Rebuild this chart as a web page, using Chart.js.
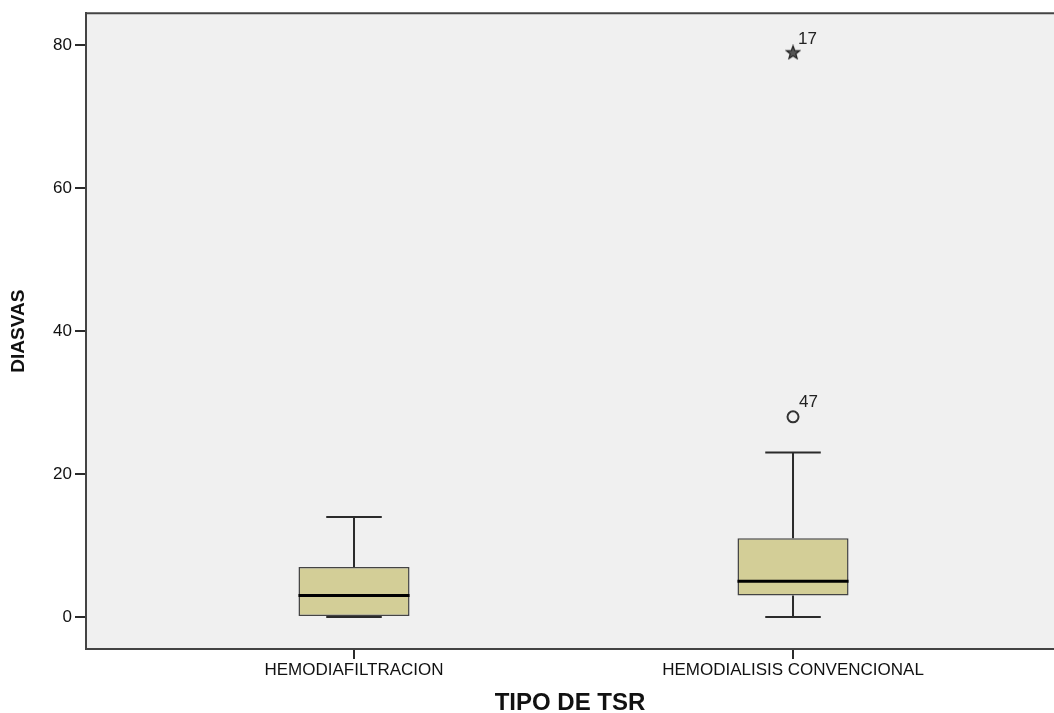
<!DOCTYPE html>
<html>
<head>
<meta charset="utf-8">
<script src="https://cdn.jsdelivr.net/npm/chart.js@4.4.1/dist/chart.umd.min.js"></script>
<style>
  html, body { margin: 0; padding: 0; background: #fff; }
  #wrap { width: 1054px; height: 713px; position: relative; }
</style>
</head>
<body>
<div id="wrap"><canvas id="boxChart"></canvas></div>
<script>
// Boxplot data
const categories = ['HEMODIAFILTRACION', 'HEMODIALISIS CONVENCIONAL'];
const whiskerLow = [0, 0];
const q1 = [0, 3];
const median = [3, 5];
const q3 = [7, 11];
const whiskerHigh = [14, 23];

// outliers (circle) and extremes (star): group number, value, case label
const outlierGroup = [2];
const outlierValues = [28];
const outlierCases = ['47'];
const extremeGroup = [2];
const extremeValues = [79];
const extremeCases = ['17'];

const yTicks = [0, 20, 40, 60, 80];

const FONT = "'Liberation Sans', Arial, sans-serif";
const INK = '#2b2b2b';

// small 5-point star for the extreme marker
function makeStar(size) {
    const c = document.createElement('canvas');
    c.width = size; c.height = size;
    const g = c.getContext('2d');
    const cx = size / 2, cy = size / 2 + 0.5, outer = size / 2 - 1, inner = outer * 0.42;
    g.beginPath();
    for (let i = 0; i < 10; i++) {
        const r = i % 2 === 0 ? outer : inner;
        const a = -Math.PI / 2 + i * Math.PI / 5;
        g.lineTo(cx + r * Math.cos(a), cy + r * Math.sin(a));
    }
    g.closePath();
    g.fillStyle = '#555';
    g.fill();
    g.strokeStyle = '#222';
    g.lineWidth = 1.2;
    g.stroke();
    return c;
}

const boxExtras = {
    id: 'boxExtras',
    beforeDraw(chart) {
        const { ctx, chartArea: a } = chart;
        ctx.save();
        ctx.fillStyle = '#ffffff';
        ctx.fillRect(0, 0, chart.width, chart.height);
        ctx.fillStyle = '#f0f0f0';
        ctx.fillRect(a.left, a.top, a.right - a.left, a.bottom - a.top);
        ctx.restore();
    },
    beforeDatasetsDraw(chart) {
        // whiskers and caps
        const { ctx, scales: { y } } = chart;
        const meta = chart.getDatasetMeta(0);
        ctx.save();
        ctx.strokeStyle = INK;
        ctx.lineWidth = 2;
        meta.data.forEach((bar, i) => {
            const cx = bar.x;
            const cap = bar.width / 4;
            ctx.beginPath();
            ctx.moveTo(cx, y.getPixelForValue(q3[i]));
            ctx.lineTo(cx, y.getPixelForValue(whiskerHigh[i]));
            ctx.moveTo(cx, y.getPixelForValue(q1[i]));
            ctx.lineTo(cx, y.getPixelForValue(whiskerLow[i]));
            ctx.moveTo(cx - cap, y.getPixelForValue(whiskerHigh[i]));
            ctx.lineTo(cx + cap, y.getPixelForValue(whiskerHigh[i]));
            ctx.moveTo(cx - cap, y.getPixelForValue(whiskerLow[i]));
            ctx.lineTo(cx + cap, y.getPixelForValue(whiskerLow[i]));
            ctx.stroke();
        });
        ctx.restore();
    },
    afterDatasetsDraw(chart) {
        const { ctx, scales: { y } } = chart;
        const meta = chart.getDatasetMeta(0);
        ctx.save();
        // medians
        ctx.strokeStyle = '#000';
        ctx.lineWidth = 3;
        meta.data.forEach((bar, i) => {
            const half = bar.width / 2;
            const py = y.getPixelForValue(median[i]);
            ctx.beginPath();
            ctx.moveTo(bar.x - half, py);
            ctx.lineTo(bar.x + half, py);
            ctx.stroke();
        });
        // case numbers next to outliers
        ctx.fillStyle = '#222';
        ctx.font = '17px ' + FONT;
        ctx.textAlign = 'left';
        ctx.textBaseline = 'alphabetic';
        chart.getDatasetMeta(1).data.forEach((pt, j) => {
            ctx.fillText(outlierCases[j], pt.x + 6, pt.y - 10);
        });
        chart.getDatasetMeta(2).data.forEach((pt, j) => {
            ctx.fillText(extremeCases[j], pt.x + 5, pt.y - 8);
        });
        ctx.restore();
    },
    afterDraw(chart) {
        // top frame line
        const { ctx, chartArea: a } = chart;
        ctx.save();
        ctx.strokeStyle = '#444';
        ctx.lineWidth = 2;
        ctx.beginPath();
        ctx.moveTo(a.left - 1, a.top);
        ctx.lineTo(a.right, a.top);
        ctx.stroke();
        ctx.restore();
    }
};

const ctx = document.getElementById('boxChart').getContext('2d');
new Chart(ctx, {
    type: 'bar',
    data: {
        datasets: [{
            type: 'bar',
            label: 'Caja',
            data: categories.map((c, i) => ({ x: i + 1, y: [q1[i], q3[i]] })),
            backgroundColor: '#d3ce97',
            borderColor: '#444',
            borderWidth: 1.5,
            borderSkipped: false,
            barPercentage: 0.253,
            categoryPercentage: 1
        }, {
            type: 'scatter',
            label: 'Atípicos',
            data: outlierValues.map((v, j) => ({ x: outlierGroup[j], y: v })),
            pointStyle: 'circle',
            pointRadius: 5.5,
            borderColor: '#333',
            borderWidth: 2,
            backgroundColor: 'rgba(0,0,0,0)'
        }, {
            type: 'scatter',
            label: 'Extremos',
            data: extremeValues.map((v, j) => ({ x: extremeGroup[j], y: v })),
            pointStyle: makeStar(16),
            pointRadius: 8
        }]
    },
    plugins: [boxExtras],
    options: {
        responsive: true,
        maintainAspectRatio: false,
        animation: false,
        layout: { autoPadding: false, padding: { top: 13, right: 0, left: 0, bottom: 0 } },
        plugins: {
            legend: { display: false },
            tooltip: { enabled: false }
        },
        scales: {
            x: {
                type: 'linear',
                min: 0.3895,
                max: 2.5945,
                offset: false,
                afterBuildTicks: (scale) => { scale.ticks = categories.map((c, i) => ({ value: i + 1 })); },
                afterFit: (scale) => { scale.height = 64; },
                grid: { drawOnChartArea: false, drawTicks: true, tickLength: 10, color: INK, lineWidth: 2, offset: false },
                border: { display: true, color: '#444', width: 2 },
                ticks: {
                    autoSkip: false,
                    maxRotation: 0,
                    padding: 1,
                    color: '#111',
                    font: { family: FONT, size: 17 },
                    callback: (v) => categories[v - 1] || ''
                },
                title: {
                    display: true,
                    text: 'TIPO DE TSR',
                    color: '#111',
                    font: { family: FONT, size: 24, weight: 'bold', lineHeight: 0.8 },
                    padding: { top: 0, bottom: 0 }
                }
            },
            y: {
                min: -4.48,
                max: 84.48,
                afterBuildTicks: (scale) => { scale.ticks = yTicks.map(v => ({ value: v })); },
                afterFit: (scale) => { scale.width = 86; },
                grid: { drawOnChartArea: false, drawTicks: true, tickLength: 11, color: INK, lineWidth: 2 },
                border: { display: true, color: '#444', width: 2 },
                ticks: {
                    padding: 3,
                    color: '#111',
                    font: { family: FONT, size: 17 }
                },
                title: {
                    display: true,
                    text: 'DIASVAS',
                    color: '#111',
                    font: { family: FONT, size: 19, weight: 'bold', lineHeight: 1.2 },
                    padding: { top: 7, bottom: 0 }
                }
            }
        }
    }
});
</script>
</body>
</html>
